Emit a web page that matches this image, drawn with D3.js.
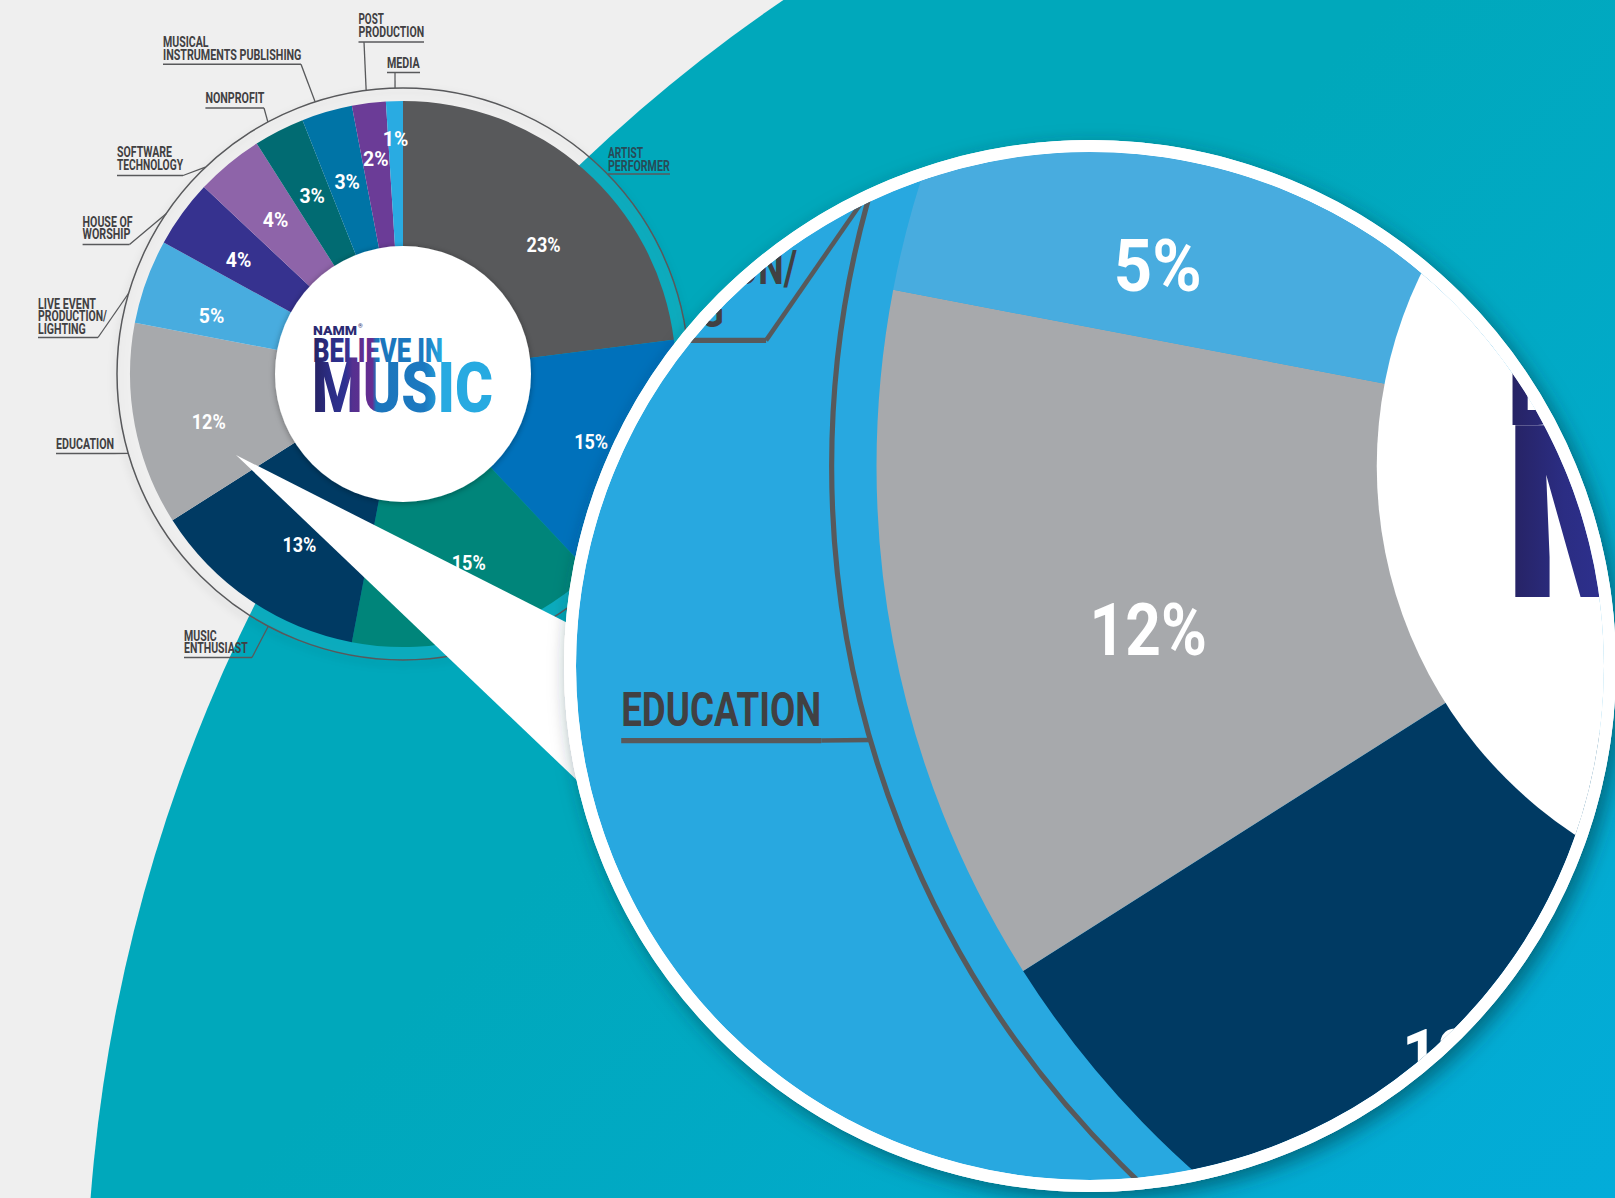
<!DOCTYPE html>
<html><head><meta charset="utf-8">
<script src="https://cdn.jsdelivr.net/npm/d3@7"></script>
<style>html,body{margin:0;padding:0;background:#efefef;overflow:hidden}</style>
</head><body>
<svg id="c" width="1615" height="1198"></svg>
<script>
// ---------------- DATA ----------------
const categories = ["Artist Performer", "Segment B", "Segment C", "Music Enthusiast", "Education",
  "Live Event Production/Lighting", "House of Worship", "Software Technology", "Nonprofit",
  "Musical Instruments Publishing", "Post Production", "Media"];
const values = [23, 15, 15, 13, 12, 5, 4, 4, 3, 3, 2, 1];
const sliceColors = ["#58595b", "#0071bb", "#00857a", "#003a63", "#a7a9ac", "#48acdf",
  "#36328f", "#8e64a9", "#016b72", "#0074a6", "#6b3c97", "#29abe2"];
const labelLines = [["ARTIST", "PERFORMER"], null, null, ["MUSIC", "ENTHUSIAST"], ["EDUCATION"],
  ["LIVE EVENT", "PRODUCTION/", "LIGHTING"], ["HOUSE OF", "WORSHIP"], ["SOFTWARE", "TECHNOLOGY"],
  ["NONPROFIT"], ["MUSICAL", "INSTRUMENTS PUBLISHING"], ["POST", "PRODUCTION"], ["MEDIA"]];

// ---------------- LAYOUT (annotation placement) ----------------
const cx = 403, cy = 374, R_OUT = 273, R_RING = 286, R_HOLE = 128;
const labelLayout = [
  {x: 608, y0: 158.3, w: [35, 61.7], ul: [608, 670, 174], lead: null, fill: "#274b57"},
  null, null,
  {x: 184, y0: 640.7, w: [32.6, 63.8], ul: [184, 252, 657.5], lead: [252, 657.5, 208.1]},
  {x: 56, y0: 449.3, w: [58], ul: [56, 114, 453.5], lead: [114, 453.5, 253.9]},
  {x: 38, y0: 308.5, w: [58, 69, 47.8], ul: [38, 98, 337.5], lead: [98, 337.5, 286.4]},
  {x: 82.6, y0: 226.7, w: [50, 47.8], ul: [82.6, 129.5, 244.5], lead: [129.5, 244.5, 304.1]},
  {x: 117, y0: 157, w: [55, 66], ul: [117, 183, 175.5], lead: [183, 175.5, 316.3]},
  {x: 205.4, y0: 103.3, w: [59], ul: [205.4, 264, 108], lead: [264, 108, 331.8]},
  {x: 163, y0: 47, w: [45.5, 138.4], ul: [163, 301, 64.3], lead: [301, 64.3, 342.1]},
  {x: 358.5, y0: 24, w: [25.4, 65.6], ul: [358.5, 424, 42], lead: [364, 42, 352.6]},
  {x: 387, y0: 68.3, w: [32.6], ul: [387, 420, 72.5], lead: [395, 72.5, 358.4]}
];
const LH = 12.6;
const pctAngleNudge = {0: 6, 2: -3, 3: -3, 4: -3, 5: -3, 6: -1.3};
const pctRadiusNudge = {0: -9};

// magnifier
const MAG = {cx: 1090, cy: 666, rIn: 514, rOut: 526, scale: 3.45, tx: 428, ty: -824};
const coneTip = [236, 455];

// ---------------- SVG ----------------
const svg = d3.select("#c");
const defs = svg.append("defs");

const tg = defs.append("linearGradient").attr("id", "tealGrad").attr("gradientUnits", "userSpaceOnUse")
  .attr("x1", 900).attr("y1", 500).attr("x2", 1615).attr("y2", 1198);
tg.append("stop").attr("offset", 0).attr("stop-color", "#00a8bb");
tg.append("stop").attr("offset", 1).attr("stop-color", "#03acd9");

const lg = defs.append("linearGradient").attr("id", "logoGrad").attr("gradientUnits", "userSpaceOnUse")
  .attr("x1", 313).attr("y1", 0).attr("x2", 493).attr("y2", 0);
[[0, "#262262"], [0.09, "#2b2d83"], [0.18, "#2e3192"], [0.22, "#55308f"], [0.33, "#662d91"],
 [0.35, "#1c75bc"], [0.62, "#1c79c0"], [0.72, "#27aae1"], [1, "#27aae1"]]
  .forEach(([o, c]) => lg.append("stop").attr("offset", o).attr("stop-color", c));

function shadow(id, dx, dy, sd, op, col) {
  const f = defs.append("filter").attr("id", id).attr("x", "-30%").attr("y", "-30%")
    .attr("width", "160%").attr("height", "160%");
  f.append("feDropShadow").attr("dx", dx).attr("dy", dy).attr("stdDeviation", sd)
    .attr("flood-color", col).attr("flood-opacity", op);
}
shadow("shLogo", 0, 1, 3, 0.35, "#000");
shadow("shMag", 6, 7, 10, 0.55, "#00303a");
shadow("shPie", 0, 4, 4, 0.22, "#003844");

defs.append("clipPath").attr("id", "magClip").append("circle")
  .attr("cx", MAG.cx).attr("cy", MAG.cy).attr("r", MAG.rIn);

// background
svg.append("rect").attr("width", 1615).attr("height", 1198).attr("fill", "#efefef");
svg.append("circle").attr("cx", 1682).attr("cy", 1319).attr("r", 1596).attr("fill", "url(#tealGrad)");

const pie = d3.pie().sort(null).value(d => d.value).startAngle(0).endAngle(2 * Math.PI);
const data = categories.map((c, i) => ({cat: c, value: values[i], color: sliceColors[i], lines: labelLines[i], lay: labelLayout[i]}));
const arcs = pie(data);
const arc = d3.arc().innerRadius(100).outerRadius(R_OUT);
const rad = a => a * Math.PI / 180;
const ringPt = deg => [cx + R_RING * Math.sin(rad(deg)), cy - R_RING * Math.cos(rad(deg))];

function drawScene(g, mag) {
  // ring
  g.append("circle").attr("cx", cx).attr("cy", cy).attr("r", R_RING)
    .attr("fill", mag ? "none" : "rgba(255,255,255,0.04)")
    .attr("stroke", "#58595b").attr("stroke-width", 1.5)
    .attr("filter", mag ? null : "url(#shPie)");
  // slices
  g.append("g").attr("transform", `translate(${cx},${cy})`)
    .selectAll("path").data(arcs).join("path")
    .attr("d", arc).attr("fill", d => d.data.color);
  // center hole
  g.append("circle").attr("cx", cx).attr("cy", cy).attr("r", R_HOLE).attr("fill", "#fff")
    .attr("filter", mag ? null : "url(#shLogo)");
  // logo
  const lgG = g.append("g").attr("font-family", "Roboto, 'DejaVu Sans', sans-serif").attr("font-weight", 900);
  lgG.append("text").attr("x", 313).attr("y", 334.5).attr("font-size", 12).attr("fill", "#2b2a72")
    .attr("textLength", 44).attr("lengthAdjust", "spacingAndGlyphs").text("NAMM");
  lgG.append("text").attr("x", 358).attr("y", 328).attr("font-size", 6).attr("fill", "#2b2a72").text("®");
  lgG.append("text").attr("x", 313).attr("y", 362).attr("font-size", 33).attr("fill", "url(#logoGrad)")
    .attr("textLength", 130).attr("lengthAdjust", "spacingAndGlyphs").text("BELIEVE IN");
  lgG.append("text").attr("x", 312).attr("y", 412).attr("font-size", 70).attr("fill", "url(#logoGrad)")
    .attr("textLength", 181).attr("lengthAdjust", "spacingAndGlyphs").text("MUSIC");
  // percent labels
  g.append("g").selectAll("text").data(arcs).join("text")
    .each(function (d, i) {
      const a = (d.startAngle + d.endAngle) / 2 + rad(pctAngleNudge[i] || 0);
      const r = (d.data.value === 1 ? 235 : d.data.value === 2 ? 217 : 200) + (pctRadiusNudge[i] || 0);
      const s = d.data.value + "%";
      d3.select(this).attr("x", cx + r * Math.sin(a)).attr("y", cy - r * Math.cos(a))
        .attr("text-anchor", "middle").attr("dominant-baseline", "central")
        .attr("font-family", "Roboto, 'DejaVu Sans', sans-serif").attr("font-weight", 700)
        .attr("font-size", 21).attr("fill", "#fff")
        .attr("textLength", s.length === 3 ? 34 : 25.5).attr("lengthAdjust", "spacingAndGlyphs")
        .text(s);
    });
  // category labels
  const lab = g.append("g").attr("font-family", "Roboto, 'DejaVu Sans', sans-serif").attr("font-weight", 700).attr("font-size", 14);
  data.forEach(d => {
    if (!d.lines) return;
    const L = d.lay, col = L.fill || "#414042";
    d.lines.forEach((t, k) => {
      lab.append("text").attr("x", L.x).attr("y", L.y0 + k * LH).attr("fill", col)
        .attr("textLength", L.w[k]).attr("lengthAdjust", "spacingAndGlyphs").text(t);
    });
    lab.append("line").attr("x1", L.ul[0]).attr("x2", L.ul[1]).attr("y1", L.ul[2]).attr("y2", L.ul[2])
      .attr("stroke", "#58595b").attr("stroke-width", 1.5);
    if (L.lead) {
      const p = ringPt(L.lead[2]);
      lab.append("line").attr("x1", L.lead[0]).attr("y1", L.lead[1]).attr("x2", p[0]).attr("y2", p[1])
        .attr("stroke", "#58595b").attr("stroke-width", 1.3);
    }
  });
}

// original chart
drawScene(svg.append("g"), false);

// cone pointer
const slopeA = 0.5065, slopeB = 0.954, xEnd = 720;
svg.append("path").attr("fill", "#fff")
  .attr("d", `M${coneTip[0]},${coneTip[1]} L${xEnd},${coneTip[1] + slopeA * (xEnd - coneTip[0])} L${xEnd},${coneTip[1] + slopeB * (xEnd - coneTip[0])} Z`);

// magnifier
svg.append("circle").attr("cx", MAG.cx).attr("cy", MAG.cy).attr("r", MAG.rOut).attr("fill", "#fff").attr("filter", "url(#shMag)");
const mg = svg.append("g").attr("clip-path", "url(#magClip)");
mg.append("rect").attr("x", MAG.cx - MAG.rOut).attr("y", MAG.cy - MAG.rOut)
  .attr("width", 2 * MAG.rOut).attr("height", 2 * MAG.rOut).attr("fill", "#28a8e0");
drawScene(mg.append("g").attr("transform", `translate(${MAG.tx},${MAG.ty}) scale(${MAG.scale})`), true);
svg.append("circle").attr("cx", MAG.cx).attr("cy", MAG.cy).attr("r", (MAG.rIn + MAG.rOut) / 2)
  .attr("fill", "none").attr("stroke", "#fff").attr("stroke-width", MAG.rOut - MAG.rIn);
</script>
</body></html>
